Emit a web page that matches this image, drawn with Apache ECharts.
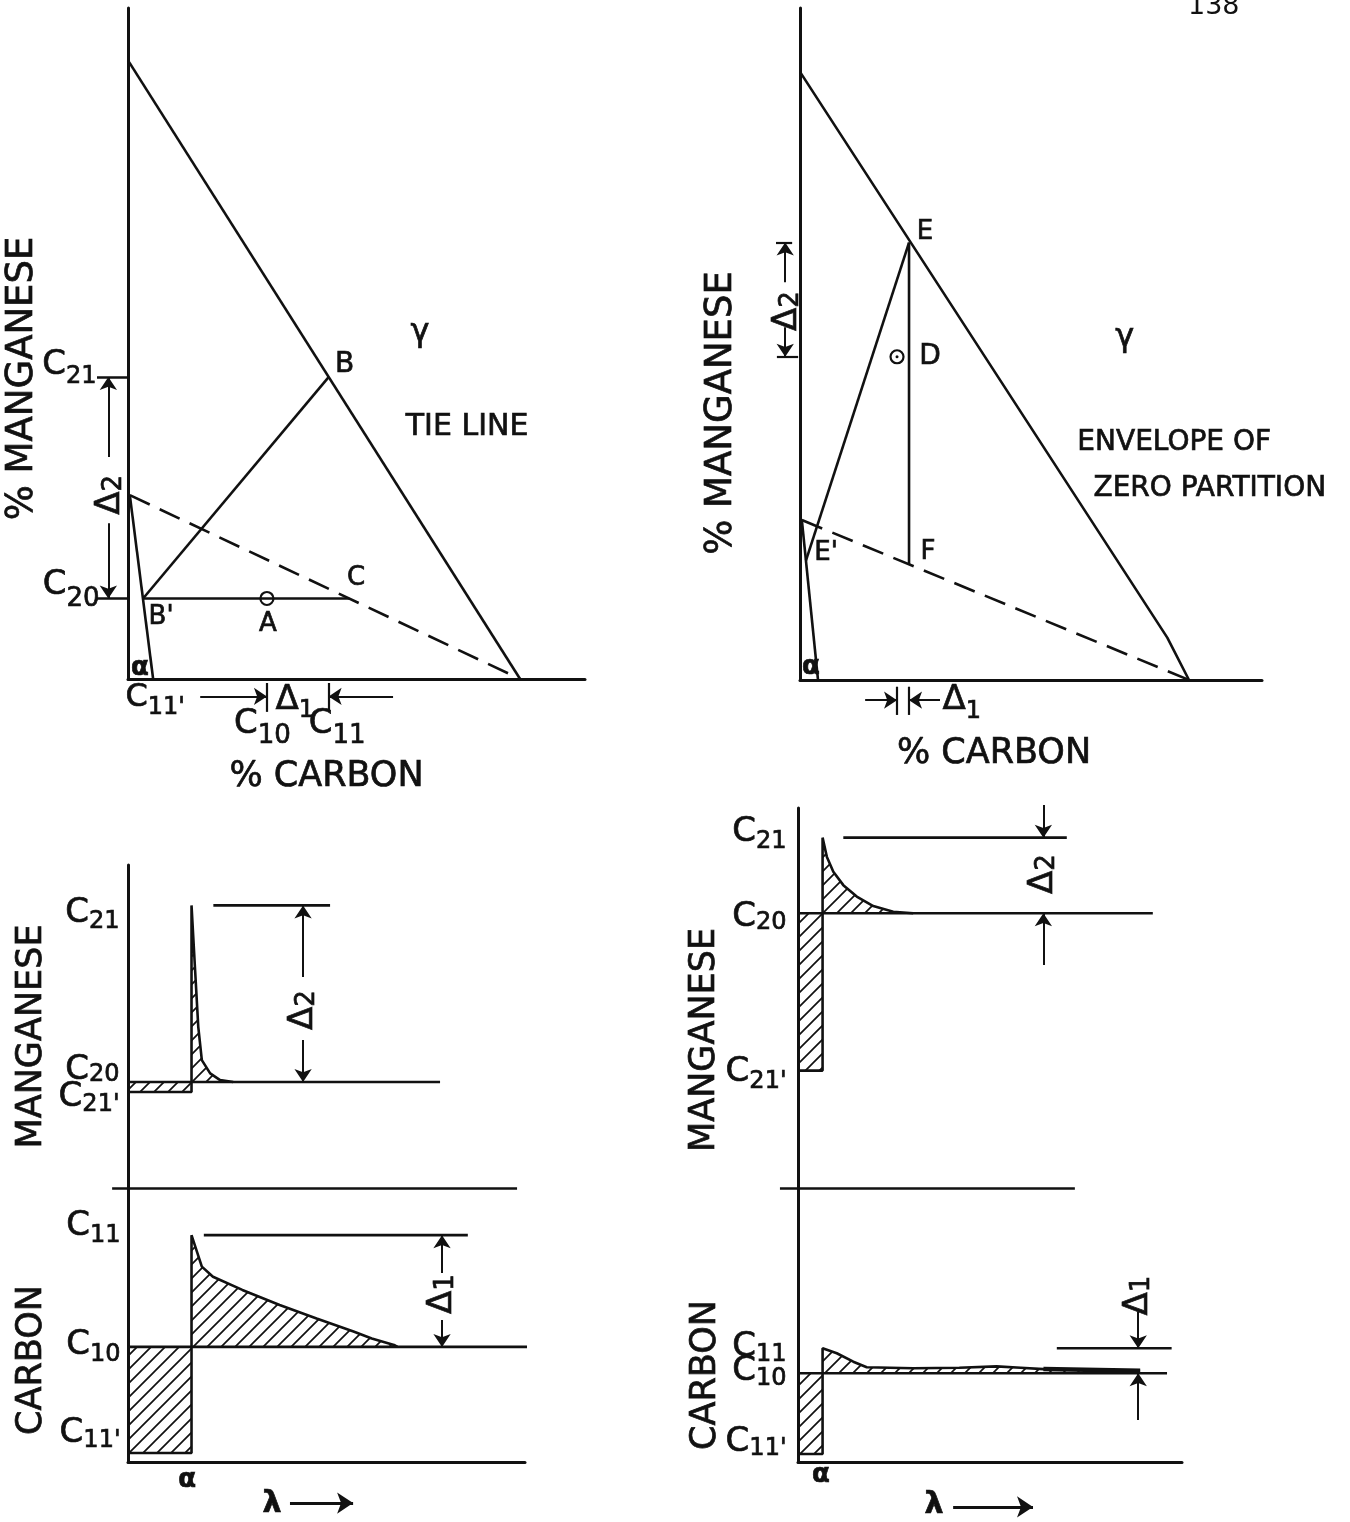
<!DOCTYPE html>
<html>
<head>
<meta charset="utf-8">
<script src="https://cdn.jsdelivr.net/npm/echarts@6/dist/echarts.min.js"></script>
<style>
  html, body { margin: 0; padding: 0; background: #fff; }
  #main { width: 1350px; height: 1522px; }
</style>
</head>
<body>
<div id="main"></div>
<script>
// ---------- Isothermal section, tie-line construction (upper left) ----------
// x: % carbon, y: % manganese (schematic units 0..100)
const gammaBoundaryL = [[0, 92.2], [85.8, 0]];
const alphaBoundaryL = [[0.4, 27.4], [5.5, 0]];
const zeroPartitionL = [[0.4, 27.4], [85.8, 0]];
const pointB  = [43.9, 45];
const pointBp = [3.3, 12];
const pointC  = [48.4, 12];
const pointA  = [30.4, 12];
const levelsTL = { C20: 12, C21: 45, C10: 30.4, C11: 43.9, C11p: 5.5 };

// ---------- Isothermal section, envelope of zero partition (upper right) ----------
const gammaBoundaryR = [[0, 90.5], [79.5, 6.3], [84.2, 0]];
const alphaBoundaryR = [[0.4, 23.8], [3.9, 0]];
const zeroPartitionR = [[0.4, 23.8], [84.2, 0]];
const pointE  = [23.6, 65.1];
const pointEp = [1.3, 17.8];
const pointF  = [23.6, 17.2];
const pointD  = [21, 48.1];

// ---------- Concentration profiles across the alpha/gamma interface ----------
// x: distance lambda, y: concentration (schematic units)
const mnLevelsL = { C21: 87.5, C20: 32.8, C21p: 29.7 };
const cLevelsL  = { C11: 82.8, C10: 42, C11p: 3.3 };
const mnLevelsR = { C21: 92.2, C20: 72.3, C21p: 30.9 };
const cLevelsR  = { C11: 41.5, C10: 32.4, C11p: 2.9 };

const mnProfileL = [[0, 29.7], [16, 29.7], [16, 87.5], [16.9, 67.5], [17.7, 49.9], [18.6, 39.6],
                    [20.7, 35.5], [23.2, 33.4], [26.5, 32.8]];
const cProfileL  = [[0, 3.3], [16, 3.3], [16, 82.8], [18.6, 71.3], [21.4, 67.6], [28.8, 62.8],
                    [38.2, 57.3], [47.5, 52.4], [56.8, 47.6], [61.4, 45.1], [67.0, 42.7], [67.9, 42]];
const mnProfileR = [[0, 30.9], [6.4, 30.9], [6.4, 92.2], [7.5, 87.2], [9.2, 83.2], [11.8, 79.7],
                    [15.3, 76.7], [19.6, 74.2], [24.8, 72.7], [30, 72.3]];
const cProfileR  = [[0, 2.9], [6.4, 2.9], [6.4, 41.5], [10.1, 39.7], [14.4, 36.6], [17.9, 34.6],
                    [30, 34.2], [42, 34.4], [51.7, 34.9], [58, 34.4], [63.9, 33.9], [89.1, 33.3]];

const mnBaselineL = [[0, 32.8], [78.6, 32.8]];
const cBaselineL  = [[0, 42], [113.1, 42]];
const mnBaselineR = [[0, 72.3], [92.4, 72.3]];
const cBaselineR  = [[0, 32.4], [96.1, 32.4]];

const mnPeakLineL = [[21.5, 87.5], [50.9, 87.5]];
const cPeakLineL  = [[19.1, 82.8], [85.6, 82.8]];
const mnPeakLineR = [[11.8, 92.2], [70, 92.2]];
const cPeakLineR  = [[67.4, 41.5], [97.3, 41.5]];

const dividerL = [[-4, 0], [98, 0]];
const dividerR = [[-4.7, 0], [72.1, 0]];

// ---------- drawing helpers ----------
const INK = '#111111';
const FONT = 'DejaVu Sans';
const TEXT_STROKE = 0.7;   // thickens the lettering slightly
const series = [];

function hatch(step, lw) {
  const c = document.createElement('canvas');
  c.width = step; c.height = step;
  const g = c.getContext('2d');
  g.strokeStyle = INK; g.lineWidth = lw;
  g.beginPath();
  g.moveTo(-1, step + 1); g.lineTo(step + 1, -1);
  g.moveTo(-step / 2, step / 2); g.lineTo(step / 2, -step / 2);
  g.moveTo(step / 2, step * 1.5); g.lineTo(step * 1.5, step / 2);
  g.stroke();
  return { image: c, repeat: 'repeat' };
}
const hatchFill = hatch(14, 1.7);

function poly(g, data, w, extra) {
  series.push(Object.assign({
    type: 'line', xAxisIndex: g, yAxisIndex: g, data: data,
    symbol: 'none', showSymbol: false, clip: false, silent: true, animation: false,
    lineStyle: { color: INK, width: w || 2.6 }, z: 3
  }, extra || {}));
}
function dashed(g, data) {
  poly(g, data, 2.6, { lineStyle: { color: INK, width: 2.6, type: [22, 11] } });
}
function profile(g, data, origin) {
  poly(g, data, 2.6, { areaStyle: { color: hatchFill, origin: origin, opacity: 1 } });
}
// straight segment (optionally with an arrow head at its end)
function seg(g, from, to, w, head, size) {
  series.push({
    type: 'lines', coordinateSystem: 'cartesian2d', xAxisIndex: g, yAxisIndex: g,
    symbol: ['none', head ? 'arrow' : 'none'], symbolSize: size || 13,
    clip: false, silent: true, animation: false,
    lineStyle: { color: INK, width: w || 2, opacity: 1, curveness: 0 },
    data: [{ coords: [from, to] }], z: 4
  });
}
function arrow(g, from, to, w, size) { seg(g, from, to, w, true, size); }
function ring(g, at, dot) {
  series.push({
    type: 'scatter', xAxisIndex: g, yAxisIndex: g, data: [at], symbol: 'circle', symbolSize: 13,
    itemStyle: { color: 'rgba(255,255,255,0)', borderColor: INK, borderWidth: 2.2, opacity: 1 },
    silent: true, clip: false, animation: false, z: 5
  });
  if (dot) {
    series.push({
      type: 'scatter', xAxisIndex: g, yAxisIndex: g, data: [at], symbol: 'circle', symbolSize: 3,
      itemStyle: { color: INK, opacity: 1 }, silent: true, clip: false, animation: false, z: 5
    });
  }
}
function note(g, at, text, o) {
  o = o || {};
  const label = {
    show: true, position: o.pos || 'inside', distance: o.dist || 0,
    offset: o.off || [0, 0], rotate: o.rot || 0, opacity: 1,
    color: INK, fontFamily: FONT, fontSize: o.size || 28,
    textBorderColor: INK, textBorderWidth: TEXT_STROKE,
    fontWeight: o.bold ? 'bold' : 'normal', formatter: text
  };
  if (o.rich) label.rich = o.rich;
  series.push({
    type: 'scatter', xAxisIndex: g, yAxisIndex: g, data: [at], symbolSize: 1,
    itemStyle: { color: 'rgba(0,0,0,0)', opacity: 1 }, label: label,
    silent: true, clip: false, animation: false, z: 6
  });
}
// letter with a lowered index, e.g. C with 21
function subNote(g, at, main, sub, o) {
  const ms = o.mainSize || 34, ss = o.subSize || 24, drop = o.drop || 8;
  const base = { fontFamily: FONT, color: INK, verticalAlign: 'middle', textBorderColor: INK, textBorderWidth: TEXT_STROKE };
  note(g, at, '{m|' + main + '}{s|' + sub + '}', Object.assign({}, o, {
    rich: {
      m: Object.assign({ fontSize: ms }, base),
      s: Object.assign({ fontSize: ss, padding: [2 * drop, 0, 0, 0] }, base)
    }
  }));
}

// ---------- panel 0: tie line ----------
poly(0, gammaBoundaryL);
poly(0, alphaBoundaryL);
dashed(0, zeroPartitionL);
poly(0, [pointBp, pointB]);
poly(0, [pointBp, pointC]);
ring(0, pointA, false);
// delta-2 dimension on the manganese axis
arrow(0, [-4.3, 33.1], [-4.3, levelsTL.C21]);
arrow(0, [-4.3, 23.2], [-4.3, levelsTL.C20]);
subNote(0, [-4.3, 28.2], '\u0394', '2', { rot: 90, mainSize: 34, subSize: 26, drop: 4, off: [-5, 2] });
// delta-1 dimension under the carbon axis
arrow(0, [15.8, -2.6], [levelsTL.C10, -2.6]);
arrow(0, [58, -2.6], [levelsTL.C11, -2.6]);
seg(0, [levelsTL.C10, -0.6], [levelsTL.C10, -4.9], 2.2);
seg(0, [levelsTL.C11, -0.6], [levelsTL.C11, -4.9], 2.2);
subNote(0, [levelsTL.C10, -3.1], '\u0394', '1', { pos: 'right', dist: 8, mainSize: 34, subSize: 24, drop: 11 });
subNote(0, [0, levelsTL.C21], 'C', '21', { pos: 'left', dist: 31, off: [0, -12], mainSize: 34, subSize: 24, drop: 12 });
subNote(0, [0, levelsTL.C20], 'C', '20', { pos: 'left', dist: 28, off: [0, -13], mainSize: 34, subSize: 26, drop: 14 });
subNote(0, [levelsTL.C11p, 0], 'C', "11'", { off: [2, 19], mainSize: 32, subSize: 24, drop: 10 });
subNote(0, [levelsTL.C10, 0], 'C', '10', { off: [-4.5, 45], mainSize: 34, subSize: 26, drop: 12 });
subNote(0, [levelsTL.C11, 0], 'C', '11', { off: [8.5, 45], mainSize: 34, subSize: 26, drop: 12 });
note(0, pointBp, "B'", { off: [18, 19], size: 26 });
note(0, pointA, 'A', { off: [1, 26], size: 26 });
note(0, pointC, 'C', { off: [7, -20], size: 26 });
note(0, pointB, 'B', { off: [16, -12], size: 28 });
note(0, [63.9, 51.6], '\u03B3', { size: 32 });
note(0, [74.2, 37.6], 'TIE LINE', { size: 30 });
note(0, [0, 0], '\u03B1', { off: [12, -11], size: 26, bold: true });

// ---------- panel 1: zero partition ----------
poly(1, gammaBoundaryR);
poly(1, alphaBoundaryR);
dashed(1, zeroPartitionR);
poly(1, [pointEp, pointE]);
poly(1, [pointE, pointF]);
ring(1, pointD, true);
arrow(1, [-3.2, 59.2], [-3.2, pointE[1]]);
arrow(1, [-3.2, 52.5], [-3.2, pointD[1]]);
seg(1, [-5.2, pointE[1]], [-1.7, pointE[1]], 2.2);
seg(1, [-5, pointD[1]], [-0.4, pointD[1]], 2.2);
subNote(1, [-3.2, 56.4], '\u0394', '2', { rot: 90, mainSize: 34, subSize: 26, drop: 4, off: [-10, 2] });
arrow(1, [14.1, -3], [pointD[0], -3]);
arrow(1, [30.3, -3], [pointE[0], -3]);
seg(1, [pointD[0], -1], [pointD[0], -5.2], 2.2);
seg(1, [pointE[0], -1], [pointE[0], -5.2], 2.2);
subNote(1, [30.3, -3], '\u0394', '1', { pos: 'right', dist: 2, mainSize: 34, subSize: 24, drop: 12 });
note(1, pointE, 'E', { off: [16, -10], size: 26 });
note(1, pointD, 'D', { off: [33, 0], size: 28 });
note(1, pointEp, "E'", { off: [20, -7], size: 26 });
note(1, pointF, 'F', { off: [19, -12], size: 26 });
note(1, [70.3, 50.9], '\u03B3', { size: 32 });
note(1, [81, 35.3], 'ENVELOPE OF', { size: 28 });
note(1, [88.7, 28.4], 'ZERO PARTITION', { size: 28 });
note(1, [0, 0], '\u03B1', { off: [11, -13], size: 26, bold: true });

// ---------- panel 2: manganese profile, tie-line case ----------
profile(2, mnProfileL, mnLevelsL.C20);
poly(2, mnBaselineL);
poly(2, mnPeakLineL);
seg(2, dividerL[0], dividerL[1], 2.6);
arrow(2, [44.1, 65.3], [44.1, mnLevelsL.C21]);
arrow(2, [44.1, 45.8], [44.1, mnLevelsL.C20]);
subNote(2, [44.1, 55.7], '\u0394', '2', { rot: 90, mainSize: 34, subSize: 26, drop: 4, off: [-2, 0] });
subNote(2, [0, mnLevelsL.C21], 'C', '21', { pos: 'left', dist: 8, off: [0, 8], drop: 8 });
subNote(2, [0, mnLevelsL.C20], 'C', '20', { pos: 'left', dist: 8, off: [0, -12], drop: 5 });
subNote(2, [0, mnLevelsL.C21p], 'C', "21'", { pos: 'left', dist: 8, off: [0, 5], drop: 8 });

// ---------- panel 3: carbon profile, tie-line case ----------
profile(3, cProfileL, cLevelsL.C10);
poly(3, cBaselineL);
poly(3, cPeakLineL);
arrow(3, [79.1, 69], [79.1, cLevelsL.C11]);
arrow(3, [79.1, 51.8], [79.1, cLevelsL.C10]);
subNote(3, [79.1, 62], '\u0394', '1', { rot: 90, mainSize: 34, subSize: 26, drop: 4, off: [-2, 0] });
subNote(3, [0, cLevelsL.C11], 'C', '11', { pos: 'left', dist: 7, off: [0, -9], drop: 10 });
subNote(3, [0, cLevelsL.C10], 'C', '10', { pos: 'left', dist: 7, off: [0, -2], drop: 10 });
subNote(3, [0, cLevelsL.C11p], 'C', "11'", { pos: 'left', dist: 7, off: [0, -20], drop: 8 });
note(3, [14.9, -6.6], '\u03B1', { size: 26, bold: true });
note(3, [36.3, -15.4], '\u03BB', { size: 30, bold: true });
arrow(3, [40.8, -15], [56.7, -15], 3, 16);

// ---------- panel 4: manganese profile, zero-partition case ----------
profile(4, mnProfileR, mnLevelsR.C20);
poly(4, mnBaselineR);
poly(4, mnPeakLineR);
seg(4, dividerR[0], dividerR[1], 2.6);
arrow(4, [63.9, 100.8], [63.9, mnLevelsR.C21]);
arrow(4, [63.9, 58.7], [63.9, mnLevelsR.C20]);
subNote(4, [63.9, 82.1], '\u0394', '2', { rot: 90, mainSize: 34, subSize: 26, drop: 4, off: [2, 0] });
subNote(4, [0, mnLevelsR.C21], 'C', '21', { pos: 'left', dist: 11, off: [0, -5], drop: 9 });
subNote(4, [0, mnLevelsR.C20], 'C', '20', { pos: 'left', dist: 11, off: [0, 4], drop: 6 });
subNote(4, [0, mnLevelsR.C21p], 'C', "21'", { pos: 'left', dist: 11, off: [0, 2], drop: 9 });

// ---------- panel 5: carbon profile, zero-partition case ----------
profile(5, cProfileR, cLevelsR.C10);
poly(5, cProfileR.slice(-2), 4.5);
poly(5, cBaselineR);
poly(5, cPeakLineR);
arrow(5, [88.6, 54.9], [88.6, cLevelsR.C11]);
arrow(5, [88.6, 15.3], [88.6, cLevelsR.C10]);
subNote(5, [88.6, 60], '\u0394', '1', { rot: 90, mainSize: 34, subSize: 26, drop: 4, off: [2, 0] });
subNote(5, [0, cLevelsR.C11], 'C', '11', { pos: 'left', dist: 11, off: [0, -1], drop: 7 });
subNote(5, [0, cLevelsR.C10], 'C', '10', { pos: 'left', dist: 11, off: [0, -2], drop: 8 });
subNote(5, [0, cLevelsR.C11p], 'C', "11'", { pos: 'left', dist: 11, off: [0, -12], drop: 7 });
note(5, [6.0, -4.7], '\u03B1', { size: 26, bold: true });
note(5, [35.4, -15.7], '\u03BB', { size: 30, bold: true });
arrow(5, [40.4, -16.4], [61.2, -16.4], 3, 16);

// ---------- grids and axes ----------
const grids = [
  { left: 128, top: 8,    width: 457, height: 671 },
  { left: 800, top: 8,    width: 462, height: 672 },
  { left: 128, top: 865,  width: 397, height: 323 },
  { left: 128, top: 1188, width: 397, height: 274 },
  { left: 798, top: 808,  width: 384, height: 380 },
  { left: 798, top: 1188, width: 384, height: 274 }
];
const axisLineStyle = { color: INK, width: 3 };
function nameStyle(size, shift) {
  return { color: INK, fontFamily: FONT, fontSize: size, padding: [0, 2 * shift, 0, 0],
           textBorderColor: INK, textBorderWidth: TEXT_STROKE };
}
function axisBase(i, showLine) {
  return {
    gridIndex: i, type: 'value', min: 0, max: 100,
    axisLine: { show: showLine, onZero: false, lineStyle: axisLineStyle },
    axisTick: { show: false }, axisLabel: { show: false }, splitLine: { show: false }
  };
}
const xAxes = grids.map((g, i) => axisBase(i, i !== 2 && i !== 4));
const yAxes = grids.map((g, i) => axisBase(i, true));

Object.assign(xAxes[0], { name: '% CARBON', nameLocation: 'middle', nameGap: 80, nameTextStyle: nameStyle(35, 30) });
Object.assign(xAxes[1], { name: '% CARBON', nameLocation: 'middle', nameGap: 56, nameTextStyle: nameStyle(35, 37) });
Object.assign(yAxes[0], {
  name: '% MANGANESE', nameLocation: 'middle', nameGap: 87, nameTextStyle: nameStyle(37, 35),
  axisTick: { show: true, customValues: [levelsTL.C20, levelsTL.C21], length: 31, lineStyle: { color: INK, width: 2.5 } }
});
Object.assign(yAxes[1], { name: '% MANGANESE', nameLocation: 'middle', nameGap: 60, nameTextStyle: nameStyle(37, 69) });
Object.assign(yAxes[2], { name: 'MANGANESE', nameLocation: 'middle', nameGap: 79, nameTextStyle: nameStyle(35, 10) });
Object.assign(yAxes[3], { name: 'CARBON', nameLocation: 'middle', nameGap: 79, nameTextStyle: nameStyle(35, 35) });
Object.assign(yAxes[4], { name: 'MANGANESE', nameLocation: 'middle', nameGap: 76, nameTextStyle: nameStyle(35, 42) });
Object.assign(yAxes[5], { name: 'CARBON', nameLocation: 'middle', nameGap: 75, nameTextStyle: nameStyle(35, 50) });

const chart = echarts.init(document.getElementById('main'), null, { renderer: 'canvas', width: 1350, height: 1522 });
chart.setOption({
  animation: false,
  backgroundColor: '#ffffff',
  title: { text: '138', left: 1183, top: -12,
           textStyle: { color: INK, fontFamily: FONT, fontSize: 27, fontWeight: 'normal' } },
  grid: grids,
  xAxis: xAxes,
  yAxis: yAxes,
  series: series
});
</script>
</body>
</html>
